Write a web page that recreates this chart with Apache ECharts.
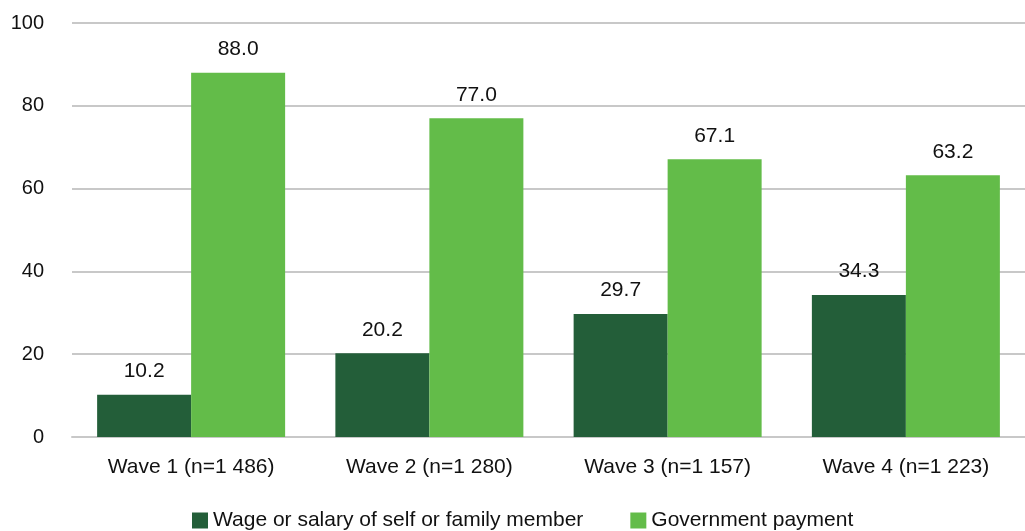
<!DOCTYPE html>
<html>
<head>
<meta charset="utf-8">
<script src="https://cdn.jsdelivr.net/npm/echarts@6/dist/echarts.min.js"></script>
<style>
  html, body { margin: 0; padding: 0; background: #fff; }
  #chart { width: 1025px; height: 531px; }
</style>
</head>
<body>
<div id="chart"></div>
<script>
const categories = ['Wave 1 (n=1 486)', 'Wave 2 (n=1 280)', 'Wave 3 (n=1 157)', 'Wave 4 (n=1 223)'];
const seriesNames = ['Wage or salary of self or family member', 'Government payment'];
const wageValues = [10.2, 20.2, 29.7, 34.3];
const governmentValues = [88.0, 77.0, 67.1, 63.2];
const yTicks = [0, 20, 40, 60, 80, 100];

const FONT = '"Liberation Sans", Arial, Helvetica, sans-serif';
const DARK = '#235E39';
const LIGHT = '#63BC49';
const TEXT = '#111';
const GRID = '#c8c8c8';

const chart = echarts.init(document.getElementById('chart'), null, { renderer: 'canvas' });

const labelStyle = {
  show: true,
  position: 'top',
  distance: 13,
  color: TEXT,
  fontSize: 21,
  fontFamily: FONT,
  formatter: p => p.value.toFixed(1)
};

chart.setOption({
  animation: false,
  textStyle: { fontFamily: FONT },
  grid: { left: 72, right: -17, top: 23, bottom: 94, containLabel: false },
  legend: {
    top: 510,
    left: 192,
    padding: 0,
    itemWidth: 16,
    itemHeight: 16,
    itemGap: 47,
    icon: 'rect',
    textStyle: { fontSize: 21, color: TEXT, fontFamily: FONT },
    data: seriesNames
  },
  xAxis: {
    type: 'category',
    data: categories,
    axisLine: { show: true, lineStyle: { color: GRID, width: 2 } },
    axisTick: { show: false },
    axisLabel: { fontSize: 21, color: TEXT, margin: 20, fontFamily: FONT }
  },
  yAxis: {
    type: 'value',
    min: yTicks[0],
    max: yTicks[yTicks.length - 1],
    interval: 20,
    axisLine: { show: false },
    axisTick: { show: false },
    axisLabel: { fontSize: 20, color: TEXT, margin: 28, fontFamily: FONT },
    splitLine: { lineStyle: { color: GRID, width: 2 } }
  },
  series: [
    {
      name: seriesNames[0],
      type: 'bar',
      data: wageValues,
      barWidth: 94,
      barGap: '0%',
      itemStyle: { color: DARK },
      label: labelStyle
    },
    {
      name: seriesNames[1],
      type: 'bar',
      data: governmentValues,
      barWidth: 94,
      barGap: '0%',
      itemStyle: { color: LIGHT },
      label: labelStyle
    }
  ]
});
</script>
</body>
</html>
